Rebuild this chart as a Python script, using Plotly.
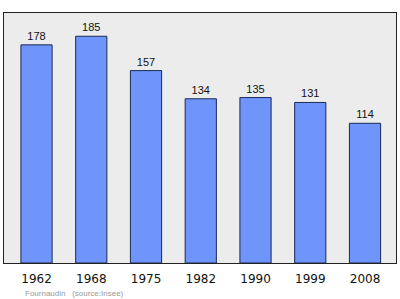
import plotly.graph_objects as go

years = ["1962", "1968", "1975", "1982", "1990", "1999", "2008"]
population = [178, 185, 157, 134, 135, 131, 114]

fig = go.Figure()
fig.add_trace(go.Bar(
    x=years, y=population,
    text=[str(v) for v in population],
    textposition="outside",
    textfont=dict(family="Liberation Sans", size=11, color="#111111"),
    cliponaxis=False,
    width=0.57,
    marker=dict(color="#6f95fb", line=dict(color="#1a2a55", width=1)),
))

fig.update_layout(
    width=400, height=299,
    margin=dict(l=4, r=4, t=13, b=36),
    paper_bgcolor="white",
    plot_bgcolor="#ececec",
    showlegend=False,
    xaxis=dict(type="category", range=[-0.594, 6.566], showline=True, mirror=True,
               linecolor="#222222", linewidth=1, ticks="", showgrid=False,
               ticklabelstandoff=5,
               tickfont=dict(family="DejaVu Sans", size=12, color="#111111")),
    yaxis=dict(range=[0, 204], showline=True, mirror=True, linecolor="#222222",
               linewidth=1, showticklabels=False, ticks="", showgrid=False, zeroline=False),
    annotations=[dict(text="Fournaudin&nbsp;&nbsp;&nbsp;(source:Insee)", xref="paper", yref="paper",
                      x=0.048, y=-0.094, xanchor="left", yanchor="top",
                      showarrow=False, font=dict(family="Liberation Sans", size=8, color="#999999"))],
)

fig.write_html("out.html")
